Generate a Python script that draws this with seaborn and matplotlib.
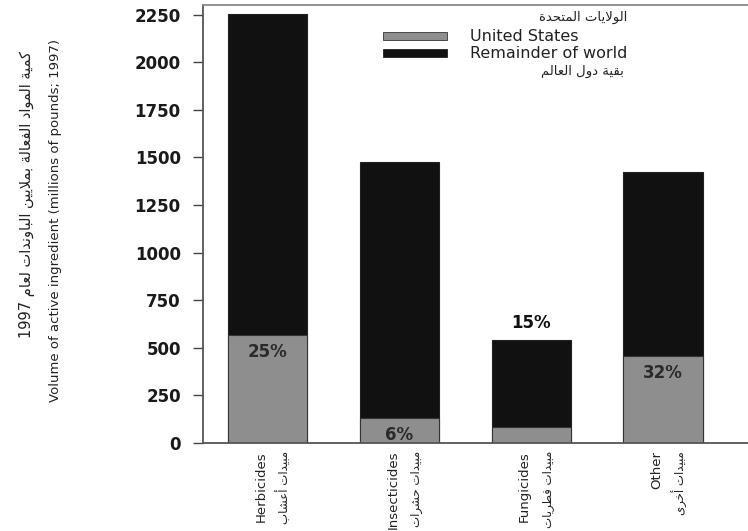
import re
import matplotlib
matplotlib.use("Agg")
import matplotlib.pyplot as plt
import seaborn as sns
import pandas as pd

categories = ["Herbicides", "Insecticides", "Fungicides", "Other"]
categories_ar = ["مبيدات أعشاب", "مبيدات حشرات", "مبيدات فطريات", "مبيدات أخرى"]
world_total = [2255, 1477, 541, 1425]
us_volume = [568, 131, 86, 457]
us_share = ["25%", "6%", "15%", "32%"]
share_inside = [True, True, False, True]
yticks = [0, 250, 500, 750, 1000, 1250, 1500, 1750, 2000, 2250]

legend_us = "United States"
legend_us_ar = "الولايات المتحدة"
legend_row = "Remainder of world"
legend_row_ar = "بقية دول العالم"
ylabel_en = "Volume of active ingredient (millions of pounds; 1997)"
ylabel_ar = "كمية المواد الفعالة بملايين الباوندات لعام 1997"

# --- tiny arabic shaper (matplotlib does no shaping / bidi) ---
DUAL = {"ب": 0xFE8F, "ت": 0xFE95, "ث": 0xFE99, "ج": 0xFE9D, "ح": 0xFEA1, "خ": 0xFEA5,
        "س": 0xFEB1, "ش": 0xFEB5, "ص": 0xFEB9, "ض": 0xFEBD, "ط": 0xFEC1, "ظ": 0xFEC5,
        "ع": 0xFEC9, "غ": 0xFECD, "ف": 0xFED1, "ق": 0xFED5, "ك": 0xFED9, "ل": 0xFEDD,
        "م": 0xFEE1, "ن": 0xFEE5, "ه": 0xFEE9, "ي": 0xFEF1, "ئ": 0xFE89}
RIGHT = {"ا": 0xFE8D, "أ": 0xFE83, "إ": 0xFE87, "آ": 0xFE81, "ة": 0xFE93, "د": 0xFEA9,
         "ذ": 0xFEAB, "ر": 0xFEAD, "ز": 0xFEAF, "و": 0xFEED, "ى": 0xFEEF, "ؤ": 0xFE85}
LAM_ALEF = {"ا": 0xFEFB, "أ": 0xFEF7, "إ": 0xFEF9, "آ": 0xFEF5}


def shape_ar(text):
    res = []
    i, n = 0, len(text)
    while i < n:
        c = text[i]
        link_prev = i > 0 and text[i - 1] in DUAL
        if c == "ل" and i + 1 < n and text[i + 1] in LAM_ALEF:
            res.append(chr(LAM_ALEF[text[i + 1]] + (1 if link_prev else 0)))
            i += 2
            continue
        nxt = text[i + 1] if i + 1 < n else ""
        if c in DUAL:
            link_next = nxt in DUAL or nxt in RIGHT
            form = {(False, False): 0, (True, False): 1, (False, True): 2, (True, True): 3}[(link_prev, link_next)]
            res.append(chr(DUAL[c] + form))
        elif c in RIGHT:
            res.append(chr(RIGHT[c] + (1 if link_prev else 0)))
        else:
            res.append(c)
        i += 1
    vis = "".join(res)[::-1]
    return re.sub(r"[0-9]+", lambda m: m.group(0)[::-1], vis)


sns.set_style("ticks")
plt.rcParams["font.family"] = ["DejaVu Sans"]
narrow = ["DejaVu Sans Condensed", "DejaVu Sans"]

df = pd.DataFrame({"category": categories, "total": world_total, "us": us_volume})

fig = plt.figure(figsize=(7.48, 5.31), dpi=100)
ax = fig.add_axes([0.2714, 0.1657, 0.7286, 0.8249])

black = "#111111"
gray = "#8e8e8e"
sns.barplot(data=df, x="category", y="total", color=black, width=0.6,
            edgecolor="#222222", linewidth=0.8, saturation=1, ax=ax)
sns.barplot(data=df, x="category", y="us", color=gray, width=0.6,
            edgecolor="#333333", linewidth=0.8, saturation=1, ax=ax)

ax.set_xlim(-0.49, 3.645)
ax.set_ylim(0, 2300)
ax.set_yticks(yticks)
ax.set_yticklabels([str(t) for t in yticks], fontsize=12, fontweight="bold", color="#1a1a1a")
ax.tick_params(axis="y", length=7, width=1, pad=9, color="#444444")
ax.tick_params(axis="x", length=0)
ax.set_xticks(range(len(categories)))
ax.set_xticklabels([])
ax.set_xlabel("")
ax.set_ylabel("")

for side in ["left", "top", "bottom"]:
    ax.spines[side].set_color("#555555")
    ax.spines[side].set_linewidth(1.3)
ax.spines["top"].set_color("#8a8a8a")
ax.spines["right"].set_visible(False)

# percentage labels
for i, (lab, inside) in enumerate(zip(us_share, share_inside)):
    if inside:
        ax.annotate(lab, (i, us_volume[i]), xytext=(0, -6), textcoords="offset points",
                    ha="center", va="top", fontsize=12, fontweight="bold", color="#2a2a2a")
    else:
        ax.annotate(lab, (i, world_total[i]), xytext=(0, 6), textcoords="offset points",
                    ha="center", va="bottom", fontsize=12, fontweight="bold", color="#111111")

# category labels (english + arabic, rotated)
xtr = ax.get_xaxis_transform()
for i, (en, ar) in enumerate(zip(categories, categories_ar)):
    ax.text(i - 0.05, -0.018, en, transform=xtr, rotation=90, ha="center", va="top",
            fontsize=9.5, family=narrow, color="#222222")
    ax.text(i + 0.13, -0.018, shape_ar(ar), transform=xtr, rotation=90, ha="center", va="top",
            fontsize=8.5, color="#222222")

# y label, two lines
fig.text(0.036, 0.633, shape_ar(ylabel_ar), rotation=90, ha="center", va="center",
         fontsize=10.5, color="#222222")
fig.text(0.074, 0.584, ylabel_en, rotation=90, ha="center", va="center",
         fontsize=9.5, family=narrow, color="#222222")

# legend drawn by hand to keep the arabic lines around it
leg_x0, leg_w, leg_h = 0.512, 0.0856, 0.015
fig.patches.append(plt.Rectangle((leg_x0, 0.925), leg_w, leg_h, transform=fig.transFigure,
                                 facecolor=gray, edgecolor="#333333", linewidth=0.6))
fig.patches.append(plt.Rectangle((leg_x0, 0.892), leg_w, leg_h, transform=fig.transFigure,
                                 facecolor=black, edgecolor="#222222", linewidth=0.6))
fig.text(0.779, 0.967, shape_ar(legend_us_ar), ha="center", va="center", fontsize=9.5, color="#222222")
fig.text(0.628, 0.932, legend_us, ha="left", va="center", fontsize=11.5, color="#222222")
fig.text(0.628, 0.899, legend_row, ha="left", va="center", fontsize=11.5, color="#222222")
fig.text(0.779, 0.866, shape_ar(legend_row_ar), ha="center", va="center", fontsize=9.5, color="#222222")

fig.savefig("out.png", dpi=100)
